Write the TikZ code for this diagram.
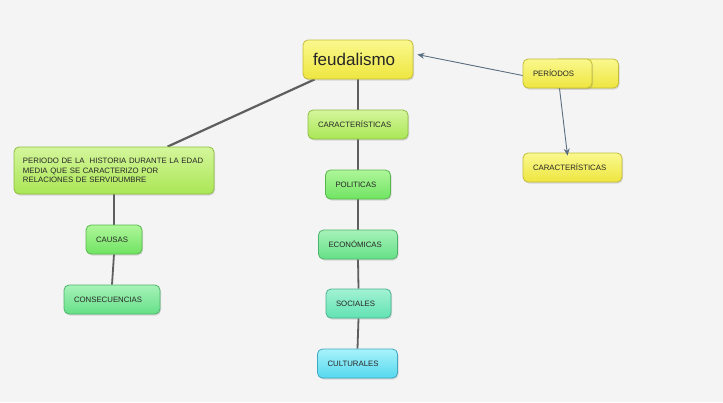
\documentclass[tikz,border=0pt]{standalone}
\usepackage{fontspec}
\setmainfont{Liberation Sans}
\usetikzlibrary{shadows,arrows.meta}
\definecolor{bgc}{HTML}{F4F4F4}
\definecolor{linec}{HTML}{5E5E5E}
\definecolor{arrc}{HTML}{5B6F82}
\definecolor{yT}{HTML}{FAF88E}\definecolor{yB}{HTML}{EEE640}\definecolor{yD}{HTML}{C4BC38}
\definecolor{lgT}{HTML}{D4F69C}\definecolor{lgB}{HTML}{AAE655}\definecolor{lgD}{HTML}{8CBC40}
\definecolor{gT}{HTML}{AEF69A}\definecolor{gB}{HTML}{70E462}\definecolor{gD}{HTML}{56B84A}
\definecolor{g2T}{HTML}{A6F2B8}\definecolor{g2B}{HTML}{66E088}\definecolor{g2D}{HTML}{4CB46A}
\definecolor{tT}{HTML}{A2F2D4}\definecolor{tB}{HTML}{62E2B2}\definecolor{tD}{HTML}{48B290}
\definecolor{cT}{HTML}{A8F2FA}\definecolor{cB}{HTML}{56D8EE}\definecolor{cD}{HTML}{40A8C2}
\pgfdeclarelayer{bgl}
\pgfdeclarelayer{lines}
\pgfsetlayers{bgl,lines,main}
\tikzset{
  cbox/.style={rounded corners=5pt, draw=#1, line width=0.8pt, inner xsep=10pt, inner ysep=2pt, align=left,
    font=\fontsize{7.8}{9.2}\selectfont, text=black!85, drop shadow={shadow xshift=1pt, shadow yshift=-1.5pt, opacity=0.25}},
  ybox/.style={cbox=yD, top color=yT, bottom color=yB},
  lgbox/.style={cbox=lgD, top color=lgT, bottom color=lgB},
  gbox/.style={cbox=gD, top color=gT, bottom color=gB},
  g2box/.style={cbox=g2D, top color=g2T, bottom color=g2B},
  tbox/.style={cbox=tD, top color=tT, bottom color=tB},
  cybox/.style={cbox=cD, top color=cT, bottom color=cB},
  conn/.style={draw=linec, line width=1.8pt},
  arr/.style={draw=arrc, line width=0.9pt, -{Stealth[length=7pt,width=6pt]}},
}
\begin{document}
\begin{tikzpicture}[x=1pt,y=-1pt]
\begin{pgfonlayer}{bgl}
\useasboundingbox[fill=bgc] (0,0) rectangle (723,402);
\end{pgfonlayer}
% nodes
\node[ybox, minimum width=65pt, minimum height=29pt] (pback) at (586,73.5) {};
\node[ybox, text width=49pt, minimum height=29pt] (periodos) at (557.5,73.5) {PERÍODOS};
\node[ybox, text width=90pt, minimum height=39pt, font=\fontsize{17}{20}\selectfont] (feud) at (358,59.5) {feudalismo};
\node[ybox, text width=79pt, minimum height=29pt] (carR) at (572.5,167.5) {CARACTERÍSTICAS};
\node[lgbox, text width=80pt, minimum height=29pt] (carC) at (358,124.5) {CARACTERÍSTICAS};
\node[gbox, text width=45pt, minimum height=29pt] (pol) at (358,184.5) {POLITICAS};
\node[g2box, text width=59pt, minimum height=29pt] (eco) at (358,244.5) {ECONÓMICAS};
\node[tbox, text width=45pt, minimum height=29pt] (soc) at (358.5,303.5) {SOCIALES};
\node[cybox, text width=60pt, minimum height=29pt] (cul) at (357.5,363.5) {CULTURALES};
\node[lgbox, text width=182pt, inner xsep=9pt, minimum height=47pt] (per) at (114,170.5) {PERIODO DE LA \ HISTORIA DURANTE LA EDAD\\MEDIA QUE SE CARACTERIZO POR\\RELACIONES DE SERVIDUMBRE};
\node[gbox, text width=36pt, minimum height=29pt] (cau) at (114,239.5) {CAUSAS};
\node[g2box, text width=76pt, minimum height=29pt] (con) at (112,299.5) {CONSECUENCIAS};
% connectors
\begin{pgfonlayer}{lines}
\draw[conn, line width=2.2pt] ([xshift=12pt]feud.south west) -- ([xshift=154pt]per.north west);
\draw[conn] (feud.south) -- (carC.north);
\draw[conn] (carC.south) -- (pol.north);
\draw[conn] (pol.south) -- (eco.north);
\draw[conn] (eco.south) -- (soc.north);
\draw[conn] (soc.south) -- (cul.north);
\draw[conn] (per.south) -- (cau.north);
\draw[conn] (cau.south) -- (con.north);
\end{pgfonlayer}
\draw[arr] ([yshift=-2pt]periodos.west) -- ([xshift=4pt,yshift=5pt]feud.east);
\draw[arr] ([xshift=2pt]periodos.south) -- ([xshift=-5pt,yshift=-3pt]carR.north);
\end{tikzpicture}
\end{document}
